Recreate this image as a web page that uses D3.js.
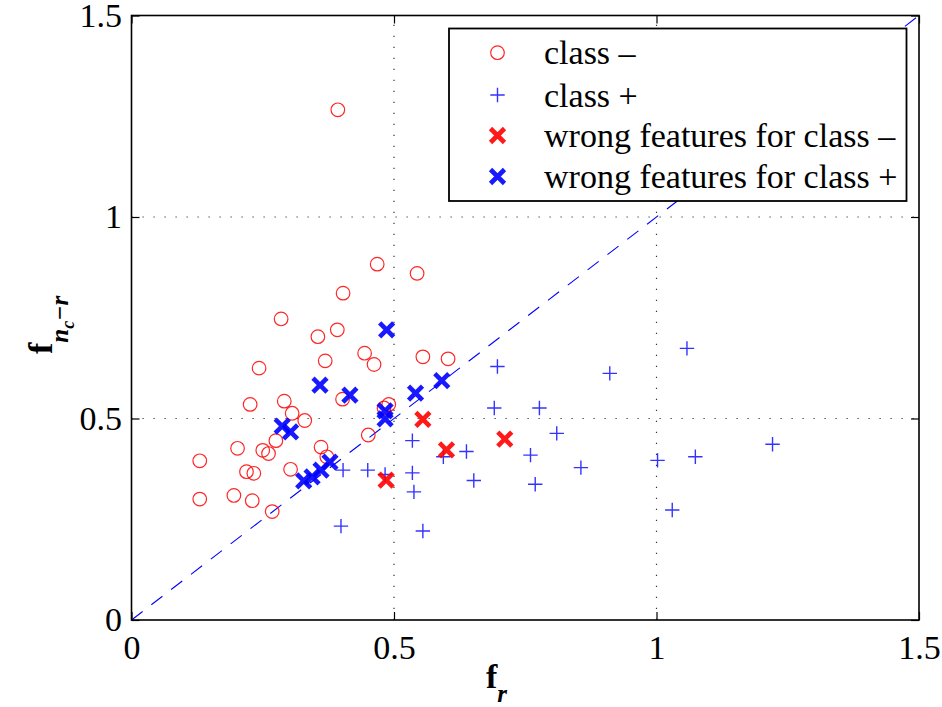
<!DOCTYPE html>
<html>
<head>
<meta charset="utf-8">
<script src="https://cdn.jsdelivr.net/npm/d3@7"></script>
<style>
  html, body { margin: 0; padding: 0; background: #fff; }
  svg { display: block; }
</style>
</head>
<body>
<script>
// f_r vs f_{n_c-r} for each sample
const classNeg = [
  [0.393,1.266],[0.468,0.883],[0.544,0.860],[0.403,0.811],[0.285,0.747],[0.355,0.703],
  [0.392,0.720],[0.369,0.643],[0.444,0.662],[0.462,0.634],[0.555,0.653],[0.603,0.648],
  [0.243,0.625],[0.226,0.535],[0.291,0.543],[0.306,0.513],[0.330,0.495],[0.402,0.548],
  [0.275,0.445],[0.250,0.421],[0.261,0.413],[0.202,0.426],[0.130,0.395],[0.361,0.429],
  [0.372,0.405],[0.303,0.374],[0.219,0.368],[0.233,0.364],[0.130,0.300],[0.195,0.309],
  [0.230,0.296],[0.268,0.269],[0.451,0.459],[0.481,0.526],[0.490,0.535]
];
const classPos = [
  [0.697,0.629],[0.911,0.612],[1.058,0.674],[0.691,0.526],[0.777,0.526],[0.810,0.463],
  [0.535,0.445],[0.638,0.418],[0.594,0.405],[0.760,0.409],[0.856,0.378],[0.535,0.365],
  [0.652,0.346],[0.769,0.337],[0.538,0.318],[1.002,0.396],[1.074,0.405],[1.221,0.436],
  [1.030,0.273],[0.555,0.221],[0.403,0.372],[0.450,0.372],[0.483,0.361],[0.399,0.233]
];
const wrongNeg = [[0.555,0.498],[0.600,0.422],[0.711,0.449],[0.485,0.347]];
const wrongPos = [
  [0.486,0.720],[0.359,0.583],[0.416,0.558],[0.591,0.594],[0.541,0.563],[0.287,0.481],
  [0.303,0.467],[0.483,0.519],[0.483,0.499],[0.328,0.345],[0.344,0.355],[0.361,0.372],
  [0.378,0.392]
];
const tickValues = [0, 0.5, 1, 1.5];
const gridValues = [0.5, 1];
const diagonal = [[0,0],[1.5,1.5]];
const legendLabels = ["class \u2013", "class +", "wrong features for class \u2013", "wrong features for class +"];

const W = 942, H = 707;
const plotL = 131.5, plotR = 919, plotT = 15.5, plotB = 620;
const FS = 34;
const SERIF = "'Liberation Serif', 'Times New Roman', Times, 'DejaVu Serif', serif";

const svg = d3.select("body").append("svg").attr("width", W).attr("height", H)
  .attr("font-family", SERIF);
svg.append("rect").attr("width", W).attr("height", H).attr("fill", "#fff");

const x = d3.scaleLinear().domain([0, 1.5]).range([plotL, plotR]);
const y = d3.scaleLinear().domain([0, 1.5]).range([plotB, plotT]);

// dotted grid
const grid = svg.append("g").attr("stroke", "#333").attr("stroke-width", 1.2).attr("stroke-dasharray", "1.2,9.8");
grid.selectAll("line.gx").data(gridValues).join("line")
  .attr("x1", d => x(d)).attr("x2", d => x(d)).attr("y1", plotB).attr("y2", plotT);
grid.selectAll("line.gy").data(gridValues).join("line")
  .attr("y1", d => y(d)).attr("y2", d => y(d)).attr("x1", plotL).attr("x2", plotR);

// axes with inward ticks on all four sides
const fmt = d => d3.format("")(d);
function styleAxis(g) {
  g.attr("font-family", SERIF).attr("font-size", FS);
  g.select(".domain").remove();
  g.selectAll(".tick line").attr("stroke", "#000").attr("stroke-width", 1.2);
  g.selectAll(".tick text").attr("fill", "#000").attr("font-family", SERIF).attr("font-size", FS);
}
svg.append("g").attr("transform", `translate(0,${plotB})`)
  .call(d3.axisBottom(x).tickValues(tickValues).tickFormat(fmt).tickSize(-8).tickPadding(15))
  .call(styleAxis);
svg.append("g").attr("transform", `translate(${plotL},0)`)
  .call(d3.axisLeft(y).tickValues(tickValues).tickFormat(fmt).tickSize(-8).tickPadding(9.5))
  .call(styleAxis);
svg.append("g").attr("transform", `translate(0,${plotT})`)
  .call(d3.axisTop(x).tickValues(tickValues).tickFormat("").tickSize(-8))
  .call(styleAxis);
svg.append("g").attr("transform", `translate(${plotR},0)`)
  .call(d3.axisRight(y).tickValues(tickValues).tickFormat("").tickSize(-8))
  .call(styleAxis);

// y = x reference line
svg.append("path").datum(diagonal)
  .attr("d", d3.line().x(d => x(d[0])).y(d => y(d[1])))
  .attr("fill", "none").attr("stroke", "#0000ff").attr("stroke-width", 1.1)
  .attr("stroke-dasharray", "14,11");

// marker helpers
const RED = "#ff0000", BLUE = "#0000ff";
function circleMark(g, cx, cy) {
  g.append("circle").attr("cx", cx).attr("cy", cy).attr("r", 6.8)
    .attr("fill", "none").attr("stroke", RED).attr("stroke-width", 1.2).attr("stroke-opacity", 0.85);
}
function plusMark(g, cx, cy) {
  const s = 7.2;
  g.append("path").attr("d", `M${cx - s},${cy}H${cx + s}M${cx},${cy - s}V${cy + s}`)
    .attr("stroke", BLUE).attr("stroke-width", 1.4).attr("stroke-opacity", 0.8).attr("fill", "none");
}
function crossMark(g, cx, cy, color) {
  const s = 7;
  g.append("path").attr("d", `M${cx - s},${cy - s}L${cx + s},${cy + s}M${cx - s},${cy + s}L${cx + s},${cy - s}`)
    .attr("stroke", color).attr("stroke-width", 4.6).attr("stroke-opacity", 0.9).attr("fill", "none");
}

const marks = svg.append("g");
classNeg.forEach(d => circleMark(marks, x(d[0]), y(d[1])));
classPos.forEach(d => plusMark(marks, x(d[0]), y(d[1])));
wrongNeg.forEach(d => crossMark(marks, x(d[0]), y(d[1]), RED));
wrongPos.forEach(d => crossMark(marks, x(d[0]), y(d[1]), BLUE));

// frame
svg.append("rect").attr("x", plotL).attr("y", plotT).attr("width", plotR - plotL).attr("height", plotB - plotT)
  .attr("fill", "none").attr("stroke", "#000").attr("stroke-width", 1.6);

// legend
const lg = svg.append("g").attr("font-family", SERIF);
lg.append("rect").attr("x", 449).attr("y", 28.5).attr("width", 457.5).attr("height", 172.5)
  .attr("fill", "#fff").attr("stroke", "#000").attr("stroke-width", 1.8);
const rowY = [52.7, 95, 135.5, 176.5];
const drawers = [
  (g, cx, cy) => circleMark(g, cx, cy),
  (g, cx, cy) => plusMark(g, cx, cy),
  (g, cx, cy) => crossMark(g, cx, cy, RED),
  (g, cx, cy) => crossMark(g, cx, cy, BLUE)
];
legendLabels.forEach((lab, i) => {
  drawers[i](lg, 497.5, rowY[i]);
  lg.append("text").attr("x", 544).attr("y", rowY[i] + 11.5)
    .attr("font-size", FS).attr("fill", "#000").text(lab);
});

// x axis label: f_r
const xl = svg.append("text").attr("x", 486).attr("y", 688).attr("fill", "#000");
xl.append("tspan").attr("font-weight", "bold").attr("font-size", FS).text("f");
xl.append("tspan").attr("dy", 14).attr("font-weight", "bold").attr("font-style", "italic")
  .attr("font-size", 25).text("r");

// y axis label: f_{n_c - r}
const yl = svg.append("text").attr("transform", "translate(52,354) rotate(-90)").attr("fill", "#000");
yl.append("tspan").attr("font-weight", "bold").attr("font-size", FS).text("f");
yl.append("tspan").attr("dy", 16).attr("font-weight", "bold").attr("font-style", "italic")
  .attr("font-size", 25).text("n");
yl.append("tspan").attr("dy", 6).attr("font-weight", "bold").attr("font-style", "italic")
  .attr("font-size", 18).text("c");
yl.append("tspan").attr("dy", -6).attr("font-weight", "bold").attr("font-style", "italic")
  .attr("font-size", 25).text("\u2212r");
</script>
</body>
</html>
